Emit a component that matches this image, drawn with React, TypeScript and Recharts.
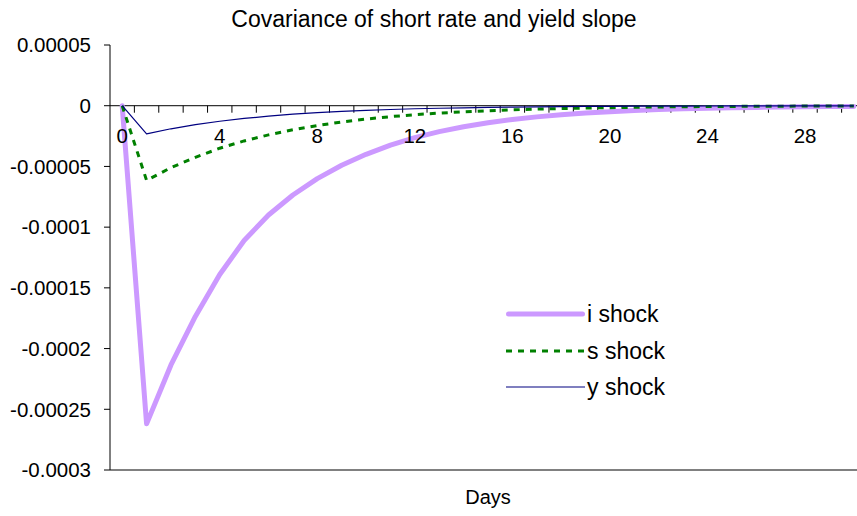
import {
  Legend,
  Line,
  LineChart,
  ReferenceDot,
  ReferenceLine,
  XAxis,
  YAxis,
} from "recharts";

// days after the shock
const days = [
  0, 1, 2, 3, 4, 5, 6, 7, 8, 9, 10, 11, 12, 13, 14, 15, 16, 17, 18, 19, 20,
  21, 22, 23, 24, 25, 26, 27, 28, 29, 30,
];

const iShock = [
  0, -0.000262, -0.0002135, -0.0001735, -0.000139, -0.000111, -0.00009,
  -0.0000735, -0.00006, -0.000049, -0.00004, -0.0000325, -0.0000263,
  -0.0000213, -0.0000173, -0.000014, -0.0000113, -0.0000092, -0.0000074,
  -0.000006, -0.0000049, -0.000004, -0.0000032, -0.0000026, -0.0000021,
  -0.0000017, -0.0000014, -0.0000011, -0.0000009, -0.0000007, -0.0000006,
];

const sShock = [
  0, -0.0000615, -0.000051, -0.0000425, -0.000035, -0.000029, -0.000024,
  -0.0000198, -0.0000163, -0.0000134, -0.000011, -0.000009, -0.0000074,
  -0.0000061, -0.000005, -0.0000041, -0.0000034, -0.0000028, -0.0000023,
  -0.0000019, -0.0000016, -0.0000013, -0.000001, -0.00000085, -0.0000007,
  -0.00000057, -0.00000047, -0.00000038, -0.00000031, -0.00000026,
  -0.00000021,
];

const yShock = [
  0, -0.0000232, -0.000019, -0.0000156, -0.0000128, -0.0000105, -0.0000086,
  -0.000007, -0.0000057, -0.0000047, -0.0000038, -0.0000031, -0.0000025,
  -0.0000021, -0.0000017, -0.0000014, -0.0000011, -0.0000009, -0.00000075,
  -0.0000006, -0.0000005, -0.0000004, -0.00000033, -0.00000027, -0.00000022,
  -0.00000018, -0.00000015, -0.00000012, -0.0000001, -0.00000008,
  -0.00000007,
];

const yTicks = [
  0.00005, 0, -0.00005, -0.0001, -0.00015, -0.0002, -0.00025, -0.0003,
];
const xTickLabels = [0, 4, 8, 12, 16, 20, 24, 28];
// excel style: tick marks sit between the categories
const xTickMarks = days.map((d) => d + 0.5);

type SeriesDef = {
  key: string;
  name: string;
  color: string;
  width: number;
  dash?: string;
  cap: "round" | "butt";
};

const series: SeriesDef[] = [
  { key: "i", name: "i shock", color: "#CC99FF", width: 5, cap: "round" },
  { key: "s", name: "s shock", color: "#008000", width: 3, dash: "6 6", cap: "butt" },
  { key: "y", name: "y shock", color: "#000080", width: 1.2, cap: "butt" },
];

const data = days.map((day, idx) => ({
  day,
  i: iShock[idx],
  s: sShock[idx],
  y: yShock[idx],
}));

const FONT = '"Liberation Sans", Arial, sans-serif';

function TickMark(p: any) {
  return <line x1={p.x1} y1={p.y1} x2={p.x1} y2={p.y1 + 7} stroke="#000" />;
}

function renderLegend(props: any) {
  const items = props.payload || [];
  return (
    <div style={{ display: "flex", flexDirection: "column" }}>
      {items.map((entry: any) => {
        const s = series.find((x) => x.key === entry.dataKey);
        if (!s) return null;
        return (
          <div
            key={s.key}
            style={{ display: "flex", alignItems: "center", height: 36.4 }}
          >
            <svg width={81} height={12} style={{ display: "block" }}>
              <line
                x1={s.cap === "round" ? 2.5 : 0}
                y1={6}
                x2={s.cap === "round" ? 76.5 : 79}
                y2={6}
                stroke={s.color}
                strokeWidth={s.width}
                strokeDasharray={s.dash}
                strokeLinecap={s.cap}
              />
            </svg>
            <span style={{ fontSize: 23, lineHeight: "24px", color: "#000" }}>
              {s.name}
            </span>
          </div>
        );
      })}
    </div>
  );
}

export default function App() {
  return (
    <div
      style={{
        position: "absolute",
        left: 0,
        top: 0,
        width: 857,
        height: 516,
        overflow: "hidden",
        background: "#fff",
        fontFamily: FONT,
      }}
    >
      <div
        style={{
          position: "absolute",
          top: 6,
          left: 0,
          width: 868,
          textAlign: "center",
          fontSize: 23,
          lineHeight: "27px",
          color: "#000",
        }}
      >
        Covariance of short rate and yield slope
      </div>
      <LineChart
        width={870}
        height={516}
        data={data}
        margin={{ top: 45, right: 4, bottom: 0, left: 0 }}
      >
        <XAxis
          dataKey="day"
          type="number"
          domain={[-0.5, 30.5]}
          allowDataOverflow
          tick={false}
          tickLine={false}
          axisLine={{ stroke: "#808080", strokeWidth: 2 }}
          height={46}
          label={{
            value: "Days",
            position: "insideBottom",
            offset: 12,
            fill: "#000",
            fontSize: 20,
          }}
        />
        <YAxis
          type="number"
          domain={[-0.0003, 0.00005]}
          allowDataOverflow
          ticks={yTicks}
          interval={0}
          width={110}
          tickSize={6}
          tickMargin={13}
          axisLine={{ stroke: "#000" }}
          tickLine={{ stroke: "#000" }}
          tick={{ fill: "#000", fontSize: 20.5 }}
          tickFormatter={(v: number) => String(v)}
        />
        <ReferenceLine y={0} stroke="#000" />
        {xTickMarks.map((m) => (
          <ReferenceLine
            key={"m" + m}
            segment={[
              { x: m, y: 0 },
              { x: m, y: 0 },
            ]}
            shape={TickMark}
          />
        ))}
        {xTickLabels.map((d) => (
          <ReferenceDot
            key={"l" + d}
            x={d}
            y={0}
            shape={(p: any) => (
              <text
                x={p.cx}
                y={p.cy + 37}
                textAnchor="middle"
                fontSize={20.5}
                fill="#000"
              >
                {d}
              </text>
            )}
          />
        ))}
        {series.map((s) => (
          <Line
            key={s.key}
            type="linear"
            dataKey={s.key}
            name={s.name}
            stroke={s.color}
            strokeWidth={s.width}
            strokeDasharray={s.dash}
            strokeLinecap={s.cap}
            strokeLinejoin="round"
            dot={false}
            activeDot={false}
            isAnimationActive={false}
          />
        ))}
        <Legend
          layout="vertical"
          align="center"
          verticalAlign="middle"
          content={renderLegend}
          wrapperStyle={{ left: 506, top: 296, width: 220 }}
        />
      </LineChart>
    </div>
  );
}
